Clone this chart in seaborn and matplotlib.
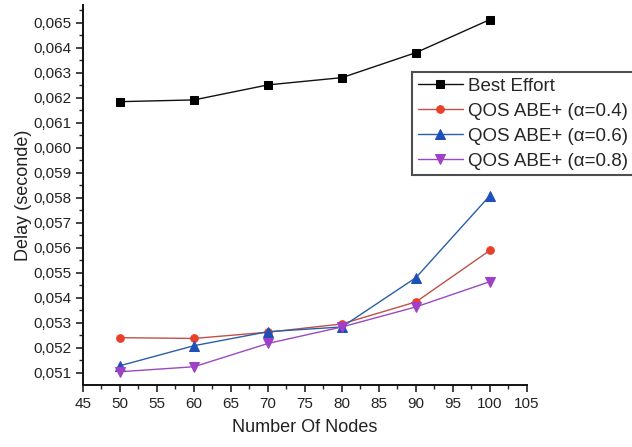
"""Delay versus number of nodes for Best Effort and QOS ABE+ variants."""

import matplotlib

matplotlib.use("Agg")

import matplotlib.pyplot as plt
from matplotlib.ticker import FuncFormatter, MultipleLocator
import pandas as pd
import seaborn as sns

NODES = [50, 60, 70, 80, 90, 100]
BEST_EFFORT = [0.06184, 0.06191, 0.06251, 0.06280, 0.06380, 0.06512]
ABE_04 = [0.05241, 0.05238, 0.05263, 0.05296, 0.05384, 0.05590]
ABE_06 = [0.05129, 0.05209, 0.05265, 0.05284, 0.05481, 0.05809]
ABE_08 = [0.05105, 0.05125, 0.05218, 0.05284, 0.05364, 0.05465]

SERIES = [
    ("Best Effort", BEST_EFFORT, "black", "#111111", "s", 6.0),
    ("QOS ABE+ (α=0.4)", ABE_04, "#e8402a", "#c0504a", "o", 5.5),
    ("QOS ABE+ (α=0.6)", ABE_06, "#1f4fb8", "#2a5fa8", "^", 7.5),
    ("QOS ABE+ (α=0.8)", ABE_08, "#a040c8", "#9a4ac0", "v", 7.5),
]


def comma_format(value, _pos):
    return f"{value:.3f}".replace(".", ",")


sns.set_theme(style="ticks")
plt.rcParams["font.family"] = ["Liberation Sans", "DejaVu Sans"]

fig = plt.figure(figsize=(6.32, 4.47), dpi=100)
ax = fig.add_axes([0.1313, 0.1387, 0.7025, 0.85])

for label, values, marker_color, line_color, marker, size in SERIES:
    frame = pd.DataFrame({"nodes": NODES, "delay": values})
    sns.lineplot(
        data=frame,
        x="nodes",
        y="delay",
        ax=ax,
        color=line_color,
        linewidth=1.0,
        marker=marker,
        markersize=size,
        markerfacecolor=marker_color,
        markeredgecolor=marker_color,
        label=label,
    )

ax.set_xlim(45, 105)
ax.set_ylim(0.05052, 0.0657)
ax.xaxis.set_major_locator(MultipleLocator(5))
ax.xaxis.set_minor_locator(MultipleLocator(2.5))
ax.yaxis.set_major_locator(MultipleLocator(0.001))
ax.yaxis.set_minor_locator(MultipleLocator(0.0005))
ax.yaxis.set_major_formatter(FuncFormatter(comma_format))

ax.tick_params(axis="both", which="major", length=5, width=1.2, labelsize=11,
               colors="#222222", direction="out")
ax.tick_params(axis="both", which="minor", length=3, width=1.0, direction="out")
for side in ("top", "right"):
    ax.spines[side].set_visible(False)
for side in ("left", "bottom"):
    ax.spines[side].set_linewidth(1.4)
    ax.spines[side].set_color("#111111")

ax.set_xlabel("Number Of Nodes", fontsize=13, color="#222222", labelpad=6)
ax.set_ylabel("Delay (seconde)", fontsize=13, color="#222222", labelpad=1)

handles, labels = ax.get_legend_handles_labels()
ax.get_legend().remove()
legend = fig.legend(
    handles,
    labels,
    loc="upper left",
    bbox_to_anchor=(0.652, 0.839),
    fontsize=13.5,
    frameon=True,
    fancybox=False,
    handlelength=2.4,
    handletextpad=0.3,
    borderaxespad=0.0,
    borderpad=0.3,
    labelspacing=0.42,
)
legend.get_frame().set_edgecolor("#222222")
legend.get_frame().set_linewidth(1.5)

fig.savefig("out.png", dpi=100)
